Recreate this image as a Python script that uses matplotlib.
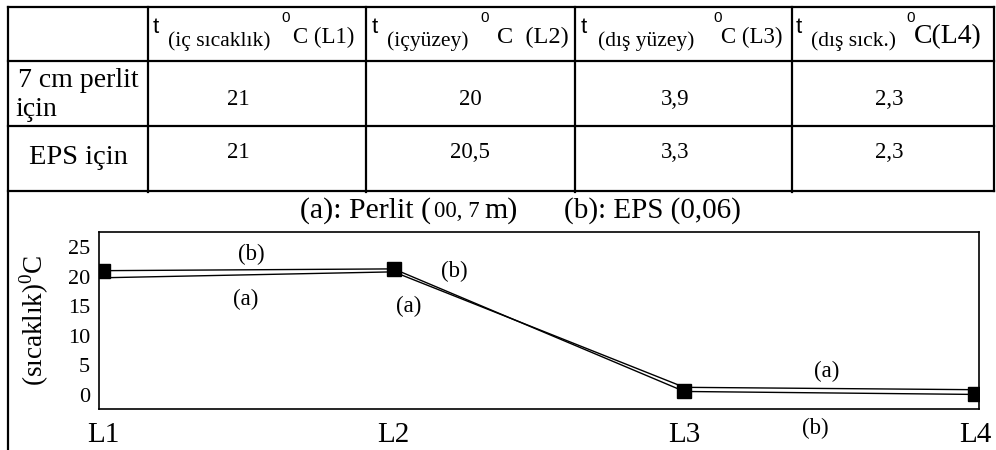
import matplotlib.pyplot as plt

plt.rcParams['font.family'] = ['Liberation Serif', 'DejaVu Serif']
plt.rcParams['mathtext.fontset'] = 'custom'
plt.rcParams['mathtext.rm'] = 'Liberation Serif'

# table data
col_subs = ['(iç sıcaklık)', '(içyüzey)', '(dış yüzey)', '(dış sıck.)']
col_tails = ['C (L1)', 'C  (L2)', 'C (L3)', 'C(L4)']
row_names = ['7 cm perlit', 'için', 'EPS için']
perlit_vals = ['21', '20', '3,9', '2,3']
eps_vals = ['21', '20,5', '3,3', '2,3']

# chart data (as drawn in the plot)
points = ['L1', 'L2', 'L3', 'L4']
perlit_line = [19.8, 20.8, 1.3, 0.9]
eps_line = [21.0, 21.3, 0.6, 0.1]

fig = plt.figure(figsize=(9.96, 4.5), dpi=100)

# background axes in pixel coordinates for the table grid
bg = fig.add_axes([0, 0, 1, 1])
bg.set_xlim(0, 996)
bg.set_ylim(450, 0)
bg.axis('off')

lw = 1.6
bg.plot([8, 994], [7, 7], color='black', lw=lw)
bg.plot([8, 8], [7, 450], color='black', lw=lw)
bg.plot([994, 994], [7, 191], color='black', lw=lw)
for y in [61, 126, 191]:
    bg.plot([8, 994], [y, y], color='black', lw=lw)
for x in [148, 366, 575, 792]:
    bg.plot([x, x], [7, 192], color='black', lw=lw)

# header cells
t_x = [153, 372, 581, 796]
sub_x = [168, 387, 598, 811]
zero_x = [281, 480, 713, 906]
tail_x = [293, 497, 721, 914]
tail_fs = [16.5, 17.5, 16.5, 20]
for i in range(4):
    bg.text(t_x[i], 33, 't', fontsize=16, ha='left', va='baseline', family='Liberation Sans')
    bg.text(sub_x[i], 46, col_subs[i], fontsize=15.5, ha='left', va='baseline')
    bg.text(zero_x[i], 22, '0', fontsize=11, ha='left', va='baseline', family='Liberation Sans')
    bg.text(tail_x[i], 43, col_tails[i], fontsize=tail_fs[i], ha='left', va='baseline')

# row labels
bg.text(18, 87, row_names[0], fontsize=20, ha='left', va='baseline')
bg.text(15, 116, row_names[1], fontsize=20, ha='left', va='baseline')
bg.text(78, 164, row_names[2], fontsize=20.5, ha='center', va='baseline')

val_x = [238, 470, 675, 889]
for i in range(4):
    bg.text(val_x[i], 105, perlit_vals[i], fontsize=16.5, ha='center', va='baseline')
    bg.text(val_x[i], 158, eps_vals[i], fontsize=16.5, ha='center', va='baseline')

# chart title pieces
bg.text(300, 218, '(a): Perlit (', fontsize=21.5, ha='left', va='baseline')
bg.text(434, 217, '00, 7', fontsize=16.5, ha='left', va='baseline')
bg.text(484, 218, 'm)', fontsize=21.5, ha='left', va='baseline')
bg.text(564, 218, '(b): EPS (0,06)', fontsize=21, ha='left', va='baseline')

# chart
ax = fig.add_axes([99 / 996, 41 / 450, 880 / 996, 177 / 450])
x = list(range(len(points)))
ax.plot(x, perlit_line, color='black', lw=1.0)
ax.plot(x, eps_line, color='black', lw=1.0, marker='s', markersize=10.5)

ax.set_xlim(-0.0138, 3.0137)
ax.set_ylim(-2.36, 27.53)
ax.set_yticks([0, 5, 10, 15, 20, 25])
ax.set_yticklabels(['0', '5', '10', '15', '20', '25'], fontsize=16)
ax.set_xticks(x)
ax.set_xticklabels(points, fontsize=21)
ax.tick_params(axis='both', length=0)
ax.tick_params(axis='y', pad=6.5)
ax.tick_params(axis='x', pad=9)
ax.set_ylabel('(sıcaklık)$^{0}$C', fontsize=19.5, labelpad=12)
for s in ax.spines.values():
    s.set_linewidth(1.2)

ax.text(0.51, 23.8, '(b)', fontsize=16.5, ha='center', va='center')
ax.text(0.49, 16.2, '(a)', fontsize=16.5, ha='center', va='center')
ax.text(1.21, 20.8, '(b)', fontsize=16.5, ha='center', va='center')
ax.text(1.05, 14.9, '(a)', fontsize=16.5, ha='center', va='center')
ax.text(2.49, 3.9, '(a)', fontsize=16.5, ha='center', va='center')
ax.text(2.45, -5.6, '(b)', fontsize=16.5, ha='center', va='center', clip_on=False)

fig.savefig('out.png', dpi=100)
